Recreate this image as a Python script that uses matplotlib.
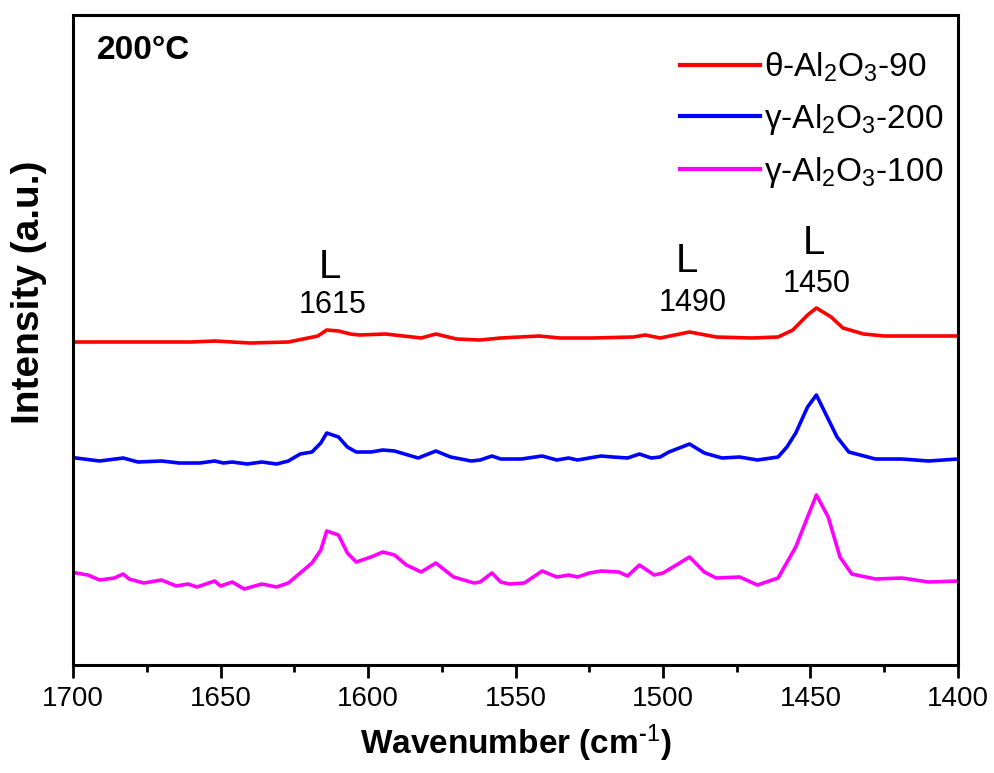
import numpy as np
import matplotlib
matplotlib.use('Agg')
import matplotlib.pyplot as plt

plt.rcParams['font.family'] = ['Liberation Sans', 'DejaVu Sans']
plt.rcParams['mathtext.fontset'] = 'custom'
plt.rcParams['mathtext.rm'] = 'Liberation Sans'
plt.rcParams['mathtext.it'] = 'Liberation Sans:italic'
plt.rcParams['mathtext.bf'] = 'Liberation Sans:bold'

# spettri (numero d'onda, intensita' in unita' arbitrarie)
wn_theta90 = [1699, 1680, 1660, 1652, 1640, 1627, 1622, 1617, 1614, 1610, 1606, 1603,
              1594, 1582, 1577, 1570, 1562, 1555, 1542, 1535, 1524, 1510, 1506, 1501,
              1491, 1482, 1470, 1461, 1456, 1451, 1448, 1443, 1439, 1432, 1425, 1412, 1400]
int_theta90 = [323, 323, 323, 324, 322, 323, 326, 329, 335, 334, 331, 330,
               331, 327, 331, 326, 325, 327, 329, 327, 327, 328, 330, 327,
               333, 328, 327, 328, 335, 350, 357, 348, 337, 331, 329, 329, 329]

wn_gamma200 = [1699, 1691, 1683, 1678, 1670, 1664, 1657, 1652, 1649, 1646, 1641, 1636,
               1631, 1627, 1623, 1619, 1616, 1614, 1610, 1607, 1604, 1599, 1595, 1591,
               1583, 1577, 1572, 1565, 1562, 1558, 1555, 1548, 1541, 1536, 1532, 1529,
               1521, 1517, 1512, 1508, 1504, 1501, 1498, 1491, 1486, 1480, 1474, 1468,
               1461, 1458, 1455, 1451, 1448, 1446, 1441, 1437, 1428, 1419, 1410, 1400]
int_gamma200 = [207, 204, 207, 203, 204, 202, 202, 204, 202, 203, 201, 203,
                201, 204, 211, 213, 222, 232, 228, 218, 213, 213, 215, 214,
                207, 214, 208, 204, 205, 209, 206, 206, 209, 205, 207, 205,
                209, 208, 207, 211, 207, 208, 213, 221, 212, 207, 208, 205,
                208, 218, 232, 258, 270, 258, 228, 213, 206, 206, 204, 206]

wn_gamma100 = [1699, 1695, 1691, 1686, 1683, 1681, 1676, 1670, 1665, 1661, 1658, 1652,
               1650, 1646, 1642, 1636, 1631, 1627, 1623, 1619, 1616, 1614, 1610, 1607,
               1604, 1599, 1595, 1591, 1587, 1582, 1577, 1571, 1564, 1562, 1558, 1555,
               1552, 1547, 1541, 1536, 1532, 1529, 1525, 1521, 1515, 1512, 1508, 1503,
               1500, 1491, 1486, 1482, 1474, 1468, 1461, 1455, 1451, 1448, 1444, 1440,
               1436, 1428, 1419, 1410, 1400]
int_gamma100 = [92, 90, 85, 87, 91, 86, 82, 85, 79, 81, 78, 84,
                79, 83, 76, 81, 78, 82, 92, 102, 115, 134, 130, 112,
                103, 108, 113, 110, 100, 93, 102, 88, 82, 83, 92, 83,
                81, 82, 94, 88, 90, 88, 92, 94, 93, 89, 100, 90,
                92, 108, 93, 87, 88, 80, 87, 118, 148, 170, 148, 108,
                91, 86, 87, 83, 84]

labels = [r'θ-Al$_2$O$_3$-90', r'γ-Al$_2$O$_3$-200', r'γ-Al$_2$O$_3$-100']
colors = ['#ff0000', '#0000ff', '#ff00ff']

# bande L (acido di Lewis)
peak_wn = [1615, 1490, 1450]
peak_L_pos = [(1613, 398), (1492, 404), (1449, 422)]
peak_num_pos = [(1612, 360), (1490, 362), (1448, 381)]

fig = plt.figure(figsize=(9.95, 7.73), dpi=100)
ax = fig.add_axes([0.0734, 0.1397, 0.8894, 0.8409])

series = [(wn_theta90, int_theta90), (wn_gamma200, int_gamma200), (wn_gamma100, int_gamma100)]
for (x, y), lab, c in zip(series, labels, colors):
    ax.plot(x, y, color=c, lw=2.6, label=lab, solid_joinstyle='round')

for wn, lp, npos in zip(peak_wn, peak_L_pos, peak_num_pos):
    ax.text(lp[0], lp[1], 'L', fontsize=29, ha='center', va='center')
    ax.text(npos[0], npos[1], str(wn), fontsize=22, ha='center', va='center')

ax.text(0.027, 0.945, '200°C', transform=ax.transAxes, fontsize=24,
        fontweight='bold', ha='left', va='center')

ax.set_xlim(1700, 1400)
ax.set_ylim(0, 650)
ax.set_xticks([1700, 1650, 1600, 1550, 1500, 1450, 1400])
ax.set_xticks([1675, 1625, 1575, 1525, 1475, 1425], minor=True)
ax.set_yticks([])
ax.tick_params(axis='x', which='major', direction='out', length=9, width=2, labelsize=20, pad=6)
ax.tick_params(axis='x', which='minor', direction='out', length=5, width=2)
for s in ax.spines.values():
    s.set_linewidth(2.2)

ax.set_xlabel('Wavenumber (cm$^{\\mathbf{\u2010}1}$)', fontsize=24, fontweight='bold', labelpad=8)
ax.set_ylabel('Intensity (a.u.)', fontsize=28, fontweight='bold')
ax.yaxis.set_label_coords(-0.029, 0.574)

leg = ax.legend(loc='upper right', bbox_to_anchor=(0.983, 0.945), frameon=False,
                fontsize=24, handlelength=2.4, handletextpad=0.1, labelspacing=0.54,
                borderaxespad=0.0, borderpad=0.0)
for line in leg.get_lines():
    line.set_linewidth(3)

plt.savefig('out.png', dpi=100)
